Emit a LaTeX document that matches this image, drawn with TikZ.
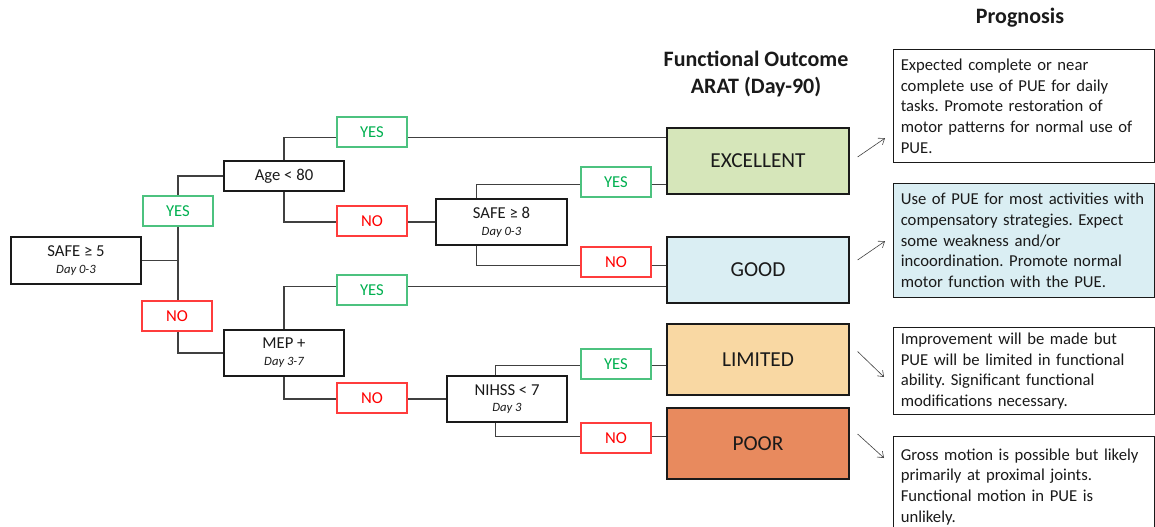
\documentclass[tikz,border=0pt]{standalone}
\usepackage{fontspec}
\setmainfont{Carlito}
\usetikzlibrary{calc,arrows.meta}
\frenchspacing

\definecolor{inkc}{HTML}{1A1A1A}
\definecolor{linec}{HTML}{404040}
\definecolor{yesg}{HTML}{00B050}
\definecolor{yesb}{HTML}{4CC27F}
\definecolor{nor}{HTML}{FF0000}
\definecolor{nob}{HTML}{FF3C3C}
\definecolor{excf}{HTML}{D6E6BA}
\definecolor{goodf}{HTML}{DAEEF3}
\definecolor{limf}{HTML}{F9D8A3}
\definecolor{poorf}{HTML}{E88A5E}

\tikzset{
  decision/.style={draw=inkc, line width=0.9pt, fill=white, text=inkc,
    align=center, inner sep=0pt, font=\fontsize{12.5}{13.5}\selectfont},
  yeslab/.style={draw=yesb, line width=0.9pt, fill=white, text=yesg,
    minimum width=52.5pt, minimum height=22.5pt, inner sep=0pt,
    font=\fontsize{12.5}{14}\selectfont},
  nolab/.style={yeslab, draw=nob, text=nor},
  outcome/.style={draw=inkc, line width=0.9pt, text=inkc,
    minimum width=136.5pt, inner sep=0pt,
    font=\fontsize{16}{18}\selectfont},
  progbox/.style={draw=inkc, line width=0.9pt, text=inkc, anchor=north west,
    align=left, text width=185pt, inner xsep=5.4pt, inner ysep=4pt,
    font=\fontsize{12.5}{15.5}\selectfont},
  conn/.style={draw=linec, line width=0.9pt},
  pointer/.style={draw=linec, line width=0.45pt,
    -{Straight Barb[length=4pt,width=6pt,line width=0.45pt]}},
  heading/.style={align=center, text=inkc,
    font=\fontsize{16.5}{20.25}\selectfont\bfseries},
}
\newcommand{\dayline}[1]{\\[-1pt]{\fontsize{9.5}{11}\selectfont\itshape #1}}

\begin{document}
\begin{tikzpicture}[x=0.75pt, y=-0.75pt]
\useasboundingbox (0,0) rectangle (1155,527);

% headings
\node[heading] (hout) at (756,74) {Functional Outcome\\ARAT (Day-90)};
\node[heading] (hprog) at (1020,18) {Prognosis};

% decision boxes
\node[decision, minimum width=97.5pt, minimum height=35.25pt] (safe5) at (76,260.5) {SAFE ≥ 5\dayline{Day 0-3}};
\node[decision, minimum width=90pt, minimum height=22.5pt] (age) at (284,176) {Age < 80};
\node[decision, minimum width=90pt, minimum height=34.5pt] (mep) at (284,353) {MEP +\dayline{Day 3-7}};
\node[decision, minimum width=98.25pt, minimum height=34.5pt] (safe8) at (501.5,222) {SAFE ≥ 8\dayline{Day 0-3}};
\node[decision, minimum width=90pt, minimum height=34.5pt] (nihss) at (507,399) {NIHSS < 7\dayline{Day 3}};

% outcome boxes
\node[outcome, fill=excf, minimum height=49.5pt] (exc) at (758,161) {EXCELLENT};
\node[outcome, fill=goodf, minimum height=49.5pt] (good) at (758,270) {GOOD};
\node[outcome, fill=limf, minimum height=53.25pt] (lim) at (758,359.5) {LIMITED};
\node[outcome, fill=poorf, minimum height=53.25pt] (poor) at (758,443.5) {POOR};

% connectors of the tree (labels are drawn over them afterwards)
\coordinate (trunk) at (178,262);
\draw[conn] (safe5.east) -- (safe5.east -| trunk);
\draw[conn] (age.west) -| (trunk) |- (mep.west);
\draw[conn] (age.north) |- ($(exc.north west)+(0,10)$);
\draw[conn] (age.south) |- (safe8.west);
\draw[conn] ($(safe8.north west)+(41,0)$) |- ($(exc.south west)+(0,-10)$);
\draw[conn] ($(safe8.south west)+(41,0)$) |- ($(good.north west)+(0,29)$);
\draw[conn] (mep.north) |- ($(good.south west)+(0,-17)$);
\draw[conn] (mep.south) |- (nihss.west);
\draw[conn] ($(nihss.north west)+(49,0)$) |- ($(lim.south west)+(0,-30)$);
\draw[conn] ($(nihss.south west)+(49,0)$) |- ($(poor.north west)+(0,29)$);

% branch labels
\node[yeslab] (yes1) at (178,211) {YES};
\node[nolab]  (no1)  at (177,316) {NO};
\node[yeslab] (yes2) at (372,132) {YES};
\node[nolab]  (no2)  at (372,221) {NO};
\node[yeslab] (yes3) at (616,182) {YES};
\node[nolab]  (no3)  at (616,262) {NO};
\node[yeslab] (yes4) at (372,290) {YES};
\node[nolab]  (no4)  at (372,398) {NO};
\node[yeslab] (yes5) at (616,364) {YES};
\node[nolab]  (no5)  at (616,438) {NO};

% prognosis boxes
\node[progbox, fill=white, minimum height=84.75pt] (p1) at (893,49)
  {Expected complete or near\\complete use of PUE for daily\\tasks. Promote restoration of\\motor patterns for normal use of\\PUE.};
\node[progbox, fill=goodf, minimum height=85.5pt] (p2) at (893,183)
  {Use of PUE for most activities with\\compensatory strategies. Expect\\some weakness and/or\\incoordination. Promote normal\\motor function with the PUE.};
\node[progbox, fill=white, minimum height=65.25pt] (p3) at (893,327)
  {Improvement will be made but\\PUE will be limited in functional\\ability. Significant functional\\modifications necessary.};
\node[progbox, fill=white, minimum height=75pt] (p4) at (893,436)
  {Gross motion is possible but likely\\primarily at proximal joints.\\Functional motion in PUE is\\unlikely.};

% pointers from outcome to prognosis
\draw[pointer] ($(exc.east)+(8,-4)$) -- ($(p1.south west)+(-8,-25)$);
\draw[pointer] ($(good.east)+(8,-10)$) -- ($(p2.south west)+(-8,-57)$);
\draw[pointer] ($(lim.east)+(8,-8)$) -- ($(p3.north west)+(-9,50)$);
\draw[pointer] ($(poor.east)+(8,-9.5)$) -- ($(p4.north west)+(-9,22)$);
\end{tikzpicture}
\end{document}
